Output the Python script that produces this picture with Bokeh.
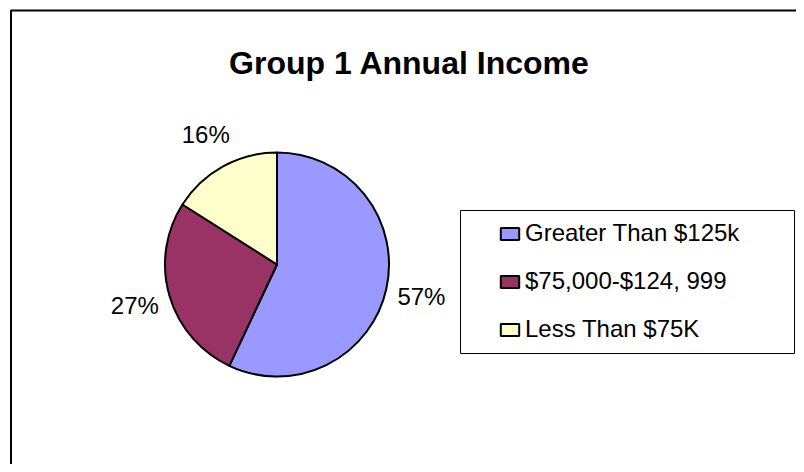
import numpy as np
from bokeh.plotting import figure
from bokeh.models import ColumnDataSource, Range1d, BoxAnnotation, Label
from bokeh.core.properties import value
from bokeh.embed import file_html
from bokeh.resources import INLINE

# ---- data ----
title_text = "Group 1 Annual Income"
categories = ["Greater Than $125k", "$75,000-$124, 999", "Less Than $75K"]
percents = [57, 27, 16]
colors = ["#9999FF", "#993366", "#FFFFCC"]

FONT = "Liberation Sans"
W, H = 796, 464

p = figure(width=W, height=H, output_backend="svg", toolbar_location=None,
           x_range=Range1d(0, W), y_range=Range1d(0, H), min_border=0,
           tools="")
p.axis.visible = False
p.grid.visible = False
p.outline_line_color = None
p.background_fill_color = "white"
p.border_fill_color = "white"

# chart-area border (left and top visible; the rest runs off the page)
p.add_layout(BoxAnnotation(left=10.5, top=454, right=W + 20, bottom=-20,
                           fill_alpha=0, line_color="black", line_alpha=1.0,
                           line_width=2, level="underlay"))

# pie geometry
cx, cy, R = 276.5, 200.0, 112.0
frac = np.array(percents, dtype=float) / sum(percents)
cum = np.cumsum(frac)
prev = np.concatenate([[0.0], cum[:-1]])
end_ang = np.pi / 2 - 2 * np.pi * prev
start_ang = np.pi / 2 - 2 * np.pi * cum
mid = (start_ang + end_ang) / 2

src = ColumnDataSource(dict(cat=categories, start=start_ang, end=end_ang,
                            color=colors, x=[cx] * 3, y=[cy] * 3))
p.wedge(x="x", y="y", radius=R, start_angle="start", end_angle="end",
        fill_color="color", line_color="black", line_width=2,
        direction="anticlock", source=src, legend_field="cat")

# percentage labels
rl = 148.0
lab_src = ColumnDataSource(dict(x=cx + rl * np.cos(mid), y=cy + rl * np.sin(mid),
                                t=[f"{v}%" for v in percents]))
p.text(x="x", y="y", text="t", source=lab_src, text_align="center",
       text_baseline="middle", text_font=value(FONT), text_font_size="24px",
       text_color="black")

# title
p.add_layout(Label(x=409, y=402, text=title_text, text_align="center",
                   text_baseline="alphabetic", text_font=FONT,
                   text_font_size="32px", text_font_style="bold",
                   text_color="black"))

# legend box
p.add_layout(BoxAnnotation(left=460, right=794, bottom=111, top=254,
                           fill_color="white", fill_alpha=1.0,
                           line_color="black", line_alpha=1.0, line_width=1,
                           level="underlay"))

lg = p.legend[0]
lg.location = (498, 121)
lg.padding = 0
lg.margin = 0
lg.border_line_color = None
lg.background_fill_alpha = 0
lg.glyph_width = 23
lg.glyph_height = 15
lg.label_standoff = 4
lg.label_height = 28
lg.spacing = 20
lg.label_text_font = FONT
lg.label_text_font_size = "24px"
lg.label_text_color = "black"

open("out.html", "w").write(file_html(p, INLINE))
